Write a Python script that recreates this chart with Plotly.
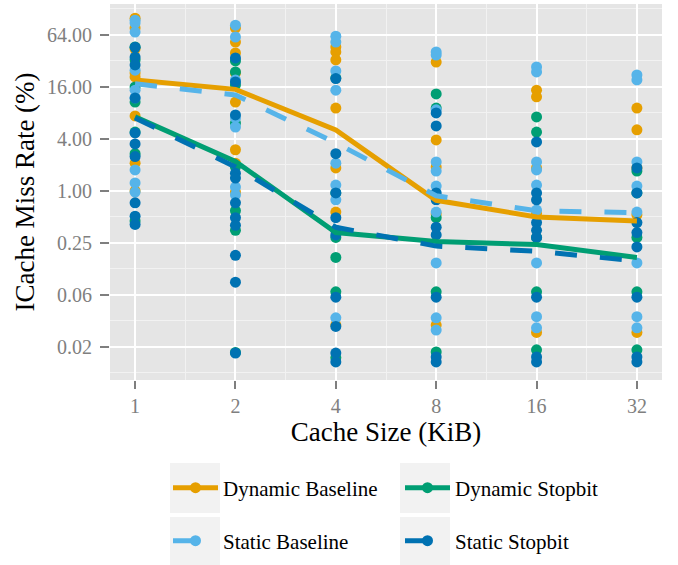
import math
import plotly.graph_objects as go

# ---------------- data ----------------
cache_sizes = [1, 2, 4, 8, 16, 32]
series_names = ["Dynamic Baseline", "Dynamic Stopbit", "Static Baseline", "Static Stopbit"]
series_colors = ["#E69F00", "#009E73", "#56B4E9", "#0072B2"]
series_dash = ["solid", "solid", "22px,23px", "22px,23px"]

# per-benchmark miss rates (%) for each cache size, per series
dyn_base_pts = [
    [100, 77, 44, 23.2, 20.9, 7.4, 2.1, 1.0],
    [77, 53, 39.6, 23.2, 10.7, 3.0, 2.1, 0.97],
    [46.5, 40.7, 32.9, 9.1, 1.85, 0.57, 0.028],
    [31.1, 3.9, 1.9, 0.54, 0.028],
    [14.7, 12.3, 1.85, 0.55, 0.023],
    [9.1, 5.1, 1.85, 0.53, 0.023],
]
dyn_stop_pts = [
    [46.5, 33, 16, 10.7, 4.8, 2.7, 0.45],
    [32, 23.9, 16.9, 6.1, 1.9, 0.59, 0.35, 0.0135],
    [20.3, 0.95, 0.29, 0.17, 0.068, 0.0117],
    [13.3, 9.1, 0.49, 0.068, 0.0137],
    [7.2, 4.8, 0.29, 0.068, 0.0145],
    [1.7, 0.95, 0.29, 0.068, 0.0145],
]
sta_base_pts = [
    [95, 88, 69, 25, 14.7, 12, 1.75, 1.24, 0.97],
    [83, 60.6, 19.3, 7.0, 5.5, 1.11, 0.9],
    [62, 53, 24.5, 14.7, 2.1, 1.17, 0.79, 0.034],
    [40.7, 37.5, 8.7, 2.17, 1.7, 1.14, 0.57, 0.147, 0.034, 0.0245],
    [27.3, 23.9, 2.17, 1.75, 1.17, 0.60, 0.147, 0.035, 0.026],
    [22, 19.3, 2.17, 1.14, 0.57, 0.147, 0.035, 0.026],
]
sta_stop_pts = [
    [46, 35.5, 28.8, 11.9, 4.7, 3.5, 2.5, 0.73, 0.51, 0.41],
    [34.7, 18.3, 7.6, 1.6, 1.41, 0.73, 0.49, 0.40, 0.18, 0.088, 0.0133],
    [20, 2.7, 0.95, 0.49, 0.35, 0.31, 0.059, 0.027, 0.0133, 0.0105],
    [8.0, 5.66, 0.95, 0.79, 0.38, 0.31, 0.059, 0.012, 0.0105],
    [3.7, 0.95, 0.79, 0.43, 0.35, 0.29, 0.059, 0.012, 0.0105],
    [1.85, 0.95, 0.43, 0.33, 0.225, 0.059, 0.012, 0.0105],
]

# summary (mean) lines
dyn_base_mean = [19.3, 15.0, 5.1, 0.78, 0.50, 0.45]
dyn_stop_mean = [7.2, 2.2, 0.33, 0.26, 0.24, 0.17]
sta_base_mean = [17.4, 12.9, 3.6, 0.88, 0.59, 0.56]
sta_stop_mean = [7.0, 1.9, 0.38, 0.23, 0.20, 0.155]

y_tick_vals = [1 / 64, 1 / 16, 1 / 4, 1, 4, 16, 64]
y_tick_text = ["0.02", "0.06", "0.25", "1.00", "4.00", "16.00", "64.00"]
y_minor_vals = [2 ** k for k in (-7, -5, -3, -1, 1, 3, 5, 7)]
x_minor_vals = [2 ** (k + 0.5) for k in range(5)]

all_pts = [dyn_base_pts, dyn_stop_pts, sta_base_pts, sta_stop_pts]
all_means = [dyn_base_mean, dyn_stop_mean, sta_base_mean, sta_stop_mean]

# ---------------- figure ----------------
FONT = "Liberation Serif"
W, H = 678, 565
ML, MR, MT, MB = 110, 16, 4, 185
PW, PH = W - ML - MR, H - MT - MB


def px_x(px):
    return (px - ML) / PW


def px_y(py):
    return (H - MB - py) / PH


fig = go.Figure()

# points
for name, color, pts in zip(series_names, series_colors, all_pts):
    xs, ys = [], []
    for size, vals in zip(cache_sizes, pts):
        xs += [size] * len(vals)
        ys += vals
    fig.add_trace(go.Scatter(x=xs, y=ys, mode="markers", showlegend=False,
                             marker=dict(color=color, size=11, line=dict(width=0)),
                             hoverinfo="skip"))

# mean lines
for name, color, dash, mean in zip(series_names, series_colors, series_dash, all_means):
    fig.add_trace(go.Scatter(x=cache_sizes, y=mean, mode="lines", showlegend=False,
                             line=dict(color=color, width=5, dash=dash)))

# legend entries
for i, (name, color, dash) in enumerate(zip(series_names, series_colors, series_dash)):
    fig.add_trace(go.Scatter(x=[None], y=[None], mode="lines+markers", name=name,
                             line=dict(color=color, width=5, dash=dash),
                             marker=dict(color=color, size=11),
                             legend="legend" if i < 2 else "legend2"))

# legend key backgrounds
shapes = []
for (x0, x1) in [(170, 220), (400, 450)]:
    for (y0, y1) in [(463, 513), (517, 565)]:
        shapes.append(dict(type="rect", xref="paper", yref="paper",
                           x0=px_x(x0), x1=px_x(x1), y0=px_y(y1), y1=px_y(y0),
                           fillcolor="#F2F2F2", line=dict(width=0), layer="below"))

legend_common = dict(orientation="h", xanchor="left", yanchor="middle",
                     bgcolor="rgba(0,0,0,0)", itemwidth=45, entrywidth=172,
                     font=dict(family=FONT, size=21, color="black"),
                     itemclick=False, itemdoubleclick=False)

fig.update_layout(
    width=W, height=H,
    margin=dict(l=ML, r=MR, t=MT, b=MB, pad=0),
    paper_bgcolor="white",
    plot_bgcolor="#E5E5E5",
    font=dict(family=FONT, color="black"),
    shapes=shapes,
    legend=dict(x=px_x(168), y=px_y(488), **legend_common),
    legend2=dict(x=px_x(168), y=px_y(541), **legend_common),
    xaxis=dict(
        type="log",
        range=[math.log10(2 ** -0.25), math.log10(2 ** 5.25)],
        tickvals=cache_sizes, ticktext=[str(c) for c in cache_sizes],
        showgrid=True, gridcolor="white", gridwidth=2.2,
        minor=dict(tickvals=x_minor_vals, showgrid=True, gridcolor="#F2F2F2", gridwidth=1, ticks=""),
        ticks="outside", ticklen=8, tickwidth=2, tickcolor="#7F7F7F",
        tickfont=dict(family=FONT, size=20, color="#7F7F7F"),
        zeroline=False, showline=False,
        title=dict(text="Cache Size (KiB)", font=dict(family=FONT, size=27, color="black"), standoff=6),
    ),
    yaxis=dict(
        type="log",
        range=[math.log10(2 ** -7.27), math.log10(2 ** 7.19)],
        tickvals=y_tick_vals, ticktext=y_tick_text,
        showgrid=True, gridcolor="white", gridwidth=2.2,
        minor=dict(tickvals=y_minor_vals, showgrid=True, gridcolor="#F2F2F2", gridwidth=1, ticks=""),
        ticks="outside", ticklen=9, tickwidth=2, tickcolor="#7F7F7F",
        ticklabelstandoff=4,
        tickfont=dict(family=FONT, size=20, color="#7F7F7F"),
        zeroline=False, showline=False,
        title=dict(text="ICache Miss Rate (%)", font=dict(family=FONT, size=27, color="black"), standoff=4),
    ),
)

fig.write_html("out.html")
